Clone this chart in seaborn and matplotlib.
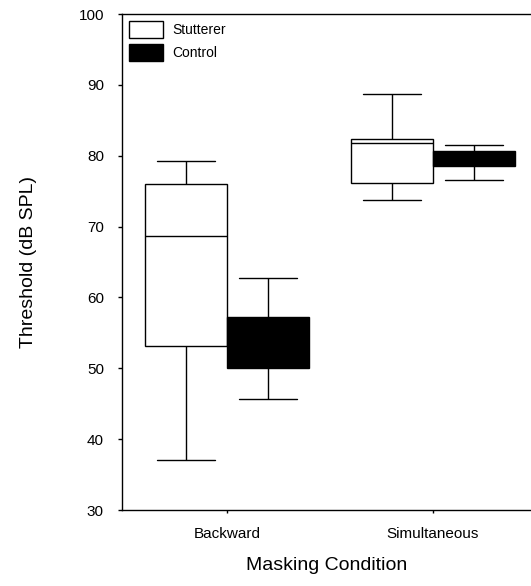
import numpy as np
import pandas as pd
import matplotlib
matplotlib.use("Agg")
import matplotlib.pyplot as plt
from matplotlib.patches import Patch
import seaborn as sns

# five-number summaries: min, Q1, median, Q3, max
conditions = ["Backward", "Simultaneous"]
groups = ["Stutterer", "Control"]
backward_stutterer = [37.0, 53.1, 68.7, 76.0, 79.3]
backward_control = [45.6, 50.1, 53.5, 57.2, 62.7]
simultaneous_stutterer = [73.7, 76.2, 81.8, 82.4, 88.7]
simultaneous_control = [76.6, 78.6, 80.0, 80.7, 81.5]

rows = []
for cond, grp, vals in [("Backward", "Stutterer", backward_stutterer),
                        ("Backward", "Control", backward_control),
                        ("Simultaneous", "Stutterer", simultaneous_stutterer),
                        ("Simultaneous", "Control", simultaneous_control)]:
    for v in vals:
        rows.append({"Masking Condition": cond, "Group": grp, "Threshold": v})
df = pd.DataFrame(rows)

sns.set_style("ticks")
plt.rcParams["font.family"] = ["Liberation Sans", "DejaVu Sans"]
plt.rcParams["text.color"] = "black"
plt.rcParams["axes.labelcolor"] = "black"

fig = plt.figure(figsize=(5.31, 5.86), dpi=100)
ax = fig.add_axes([122 / 531, 76 / 586, 409 / 531, 496 / 586])

palette = {"Stutterer": "white", "Control": "black"}
sns.boxplot(data=df, x="Masking Condition", y="Threshold", hue="Group",
            order=conditions, hue_order=groups, palette=palette,
            whis=(0, 100), width=0.8, gap=0, linecolor="black", linewidth=1.0,
            capwidths=0.28, legend=False, ax=ax)

ax.set_xlim(-0.51, 1.476)
ax.set_ylim(30, 100)
ax.set_yticks(range(30, 101, 10))

for s in ["top", "left", "bottom"]:
    ax.spines[s].set_visible(True)
    ax.spines[s].set_linewidth(1.0)
    ax.spines[s].set_color("black")
ax.spines["right"].set_visible(False)

ax.tick_params(axis="y", direction="out", length=3, width=1, pad=10, labelsize=11, colors="black")
ax.tick_params(axis="x", direction="out", length=2, width=1, pad=10, labelsize=11, colors="black")

ax.set_ylabel("Threshold (dB SPL)", fontsize=14, labelpad=30)
ax.set_xlabel("Masking Condition", fontsize=14, labelpad=12)

handles = [Patch(facecolor=palette[g], edgecolor="black", linewidth=1.0) for g in groups]
ax.legend(handles, groups, loc="upper left", frameon=False, fontsize=10,
          handlelength=2.45, handleheight=1.5, labelspacing=0.42,
          handletextpad=0.7, borderaxespad=0.3, borderpad=0.2)

fig.savefig("out.png", dpi=100)
